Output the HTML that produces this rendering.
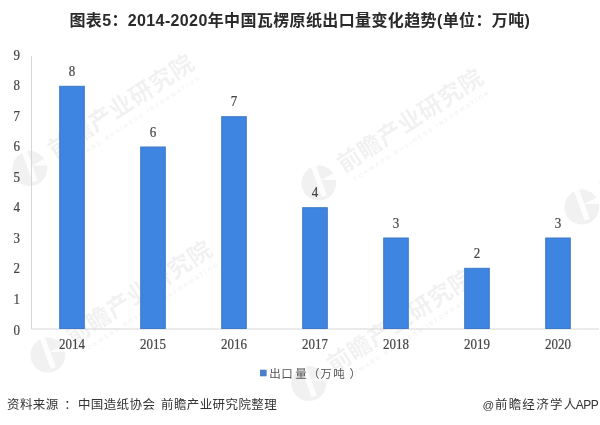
<!DOCTYPE html>
<html lang="zh-CN">
<head>
<meta charset="utf-8">
<title>图表5：2014-2020年中国瓦楞原纸出口量变化趋势</title>
<style>
html,body{margin:0;padding:0;background:#fff;}
body{width:600px;height:425px;overflow:hidden;position:relative;font-family:"Liberation Sans","Noto Sans CJK SC",sans-serif;}
svg{position:absolute;left:0;top:0;display:block;}
.title{font-family:"Liberation Sans","Noto Sans CJK SC",sans-serif;font-weight:700;font-size:16px;fill:#2a2a2a;}
.num{font-family:"Liberation Serif","Noto Serif CJK SC",serif;font-size:13.6px;fill:#444;stroke:#444;stroke-width:0.2px;text-anchor:middle;}
.leg{font-family:"Liberation Sans","Noto Sans CJK SC",sans-serif;font-size:11.5px;fill:#555;}
.foot{font-family:"Liberation Sans","Noto Sans CJK SC",sans-serif;font-size:12.5px;letter-spacing:0.4px;fill:#333;}
.footr{font-family:"Liberation Sans","Noto Sans CJK SC",sans-serif;font-size:12.5px;fill:#333;}
.wm{font-family:"Liberation Sans","Noto Sans CJK SC",sans-serif;font-size:23.5px;font-weight:700;fill:#000;fill-opacity:0.055;}
.wms{font-family:"Liberation Sans",sans-serif;font-size:6px;font-weight:700;fill:#000;fill-opacity:0.05;}
</style>
</head>
<body>
<svg width="600" height="425" viewBox="0 0 600 425">
<rect x="0" y="0" width="600" height="425" fill="#ffffff"/>
<text class="title" x="69.4" y="26.2" textLength="460.5" lengthAdjust="spacing">图表5：2014-2020年中国瓦楞原纸出口量变化趋势(单位：万吨)</text>
<g id="watermarks">
<g transform="translate(181,66.5) rotate(-33.0)"><g transform="translate(-182.4,3.3) rotate(33.0)"><circle cx="0" cy="0" r="17.5" fill="#000" fill-opacity="0.055"/><path d="M-9 -19 L-4 -21 L8 12 L3 14 Z M2 -3 L19 -12 L19 -3 Z" fill="#fff" fill-opacity="0.85"/></g><text class="wm" x="-156.0" y="8.8" textLength="168.0" lengthAdjust="spacing">前瞻产业研究院</text><text class="wms" x="-151.2" y="21.5" textLength="160" lengthAdjust="spacing">FORWARD BUSINESS INFORMATION</text></g>
<g transform="translate(470,81) rotate(-33.0)"><g transform="translate(-182.4,3.3) rotate(33.0)"><circle cx="0" cy="0" r="17.5" fill="#000" fill-opacity="0.055"/><path d="M-9 -19 L-4 -21 L8 12 L3 14 Z M2 -3 L19 -12 L19 -3 Z" fill="#fff" fill-opacity="0.85"/></g><text class="wm" x="-156.0" y="8.8" textLength="168.0" lengthAdjust="spacing">前瞻产业研究院</text><text class="wms" x="-151.2" y="21.5" textLength="160" lengthAdjust="spacing">FORWARD BUSINESS INFORMATION</text></g>
<g transform="translate(733,105) rotate(-33.0)"><g transform="translate(-182.4,3.3) rotate(33.0)"><circle cx="0" cy="0" r="17.5" fill="#000" fill-opacity="0.055"/><path d="M-9 -19 L-4 -21 L8 12 L3 14 Z M2 -3 L19 -12 L19 -3 Z" fill="#fff" fill-opacity="0.85"/></g><text class="wm" x="-156.0" y="8.8" textLength="168.0" lengthAdjust="spacing">前瞻产业研究院</text><text class="wms" x="-151.2" y="21.5" textLength="160" lengthAdjust="spacing">FORWARD BUSINESS INFORMATION</text></g>
<g transform="translate(199,253) rotate(-33.0)"><g transform="translate(-182.4,3.3) rotate(33.0)"><circle cx="0" cy="0" r="17.5" fill="#000" fill-opacity="0.055"/><path d="M-9 -19 L-4 -21 L8 12 L3 14 Z M2 -3 L19 -12 L19 -3 Z" fill="#fff" fill-opacity="0.85"/></g><text class="wm" x="-156.0" y="8.8" textLength="168.0" lengthAdjust="spacing">前瞻产业研究院</text><text class="wms" x="-151.2" y="21.5" textLength="160" lengthAdjust="spacing">FORWARD BUSINESS INFORMATION</text></g>
<g transform="translate(460,281.5) rotate(-33.0)"><g transform="translate(-182.4,3.3) rotate(33.0)"><circle cx="0" cy="0" r="17.5" fill="#000" fill-opacity="0.055"/><path d="M-9 -19 L-4 -21 L8 12 L3 14 Z M2 -3 L19 -12 L19 -3 Z" fill="#fff" fill-opacity="0.85"/></g><text class="wm" x="-156.0" y="8.8" textLength="168.0" lengthAdjust="spacing">前瞻产业研究院</text><text class="wms" x="-151.2" y="21.5" textLength="160" lengthAdjust="spacing">FORWARD BUSINESS INFORMATION</text></g>
</g>
<line x1="31.5" y1="56" x2="31.5" y2="329" stroke="#d6d6d6" stroke-width="1"/>
<line x1="31.5" y1="329" x2="599" y2="329" stroke="#d6d6d6" stroke-width="1"/>
<text class="num" transform="translate(16.8,334.5) scale(0.955,1)">0</text>
<text class="num" transform="translate(16.8,304.0) scale(0.955,1)">1</text>
<text class="num" transform="translate(16.8,273.4) scale(0.955,1)">2</text>
<text class="num" transform="translate(16.8,242.9) scale(0.955,1)">3</text>
<text class="num" transform="translate(16.8,212.4) scale(0.955,1)">4</text>
<text class="num" transform="translate(16.8,181.8) scale(0.955,1)">5</text>
<text class="num" transform="translate(16.8,151.3) scale(0.955,1)">6</text>
<text class="num" transform="translate(16.8,120.8) scale(0.955,1)">7</text>
<text class="num" transform="translate(16.8,90.3) scale(0.955,1)">8</text>
<text class="num" transform="translate(16.8,59.7) scale(0.955,1)">9</text>
<rect x="59.7" y="86.3" width="24.6" height="242.2" fill="#3e84e1" stroke="#4079c6" stroke-width="1"/>
<text class="num" transform="translate(72.0,76.0) scale(0.955,1)">8</text>
<text class="num" transform="translate(72.0,349.0) scale(0.955,1)">2014</text>
<rect x="140.7" y="147.0" width="24.6" height="181.5" fill="#3e84e1" stroke="#4079c6" stroke-width="1"/>
<text class="num" transform="translate(153.0,136.7) scale(0.955,1)">6</text>
<text class="num" transform="translate(153.0,349.0) scale(0.955,1)">2015</text>
<rect x="221.7" y="116.7" width="24.6" height="211.8" fill="#3e84e1" stroke="#4079c6" stroke-width="1"/>
<text class="num" transform="translate(234.0,106.4) scale(0.955,1)">7</text>
<text class="num" transform="translate(234.0,349.0) scale(0.955,1)">2016</text>
<rect x="302.7" y="207.7" width="24.6" height="120.8" fill="#3e84e1" stroke="#4079c6" stroke-width="1"/>
<text class="num" transform="translate(315.0,197.4) scale(0.955,1)">4</text>
<text class="num" transform="translate(315.0,349.0) scale(0.955,1)">2017</text>
<rect x="383.7" y="238.0" width="24.6" height="90.5" fill="#3e84e1" stroke="#4079c6" stroke-width="1"/>
<text class="num" transform="translate(396.0,227.7) scale(0.955,1)">3</text>
<text class="num" transform="translate(396.0,349.0) scale(0.955,1)">2018</text>
<rect x="464.7" y="268.3" width="24.6" height="60.2" fill="#3e84e1" stroke="#4079c6" stroke-width="1"/>
<text class="num" transform="translate(477.0,258.0) scale(0.955,1)">2</text>
<text class="num" transform="translate(477.0,349.0) scale(0.955,1)">2019</text>
<rect x="545.7" y="238.0" width="24.6" height="90.5" fill="#3e84e1" stroke="#4079c6" stroke-width="1"/>
<text class="num" transform="translate(558.0,227.7) scale(0.955,1)">3</text>
<text class="num" transform="translate(558.0,349.0) scale(0.955,1)">2020</text>
<rect x="260" y="369.7" width="6.6" height="6.6" fill="#4a80c8"/>
<text class="leg" y="377.6" x="269.3 281.3 295.3 307.9 320.3 333.3 349.6">出口量（万吨）</text>
<text class="foot" y="408.7"><tspan x="7.0">资料来源</tspan><tspan x="64.2">：</tspan><tspan x="77.9">中国造纸协会</tspan> <tspan x="161.0">前瞻产业研究院整理</tspan></text>
<text class="footr" y="408.7"><tspan font-size="11.5" x="482.4">@</tspan><tspan font-size="12.5" x="495 508.7 522.2 536.2 550 563.7">前瞻经济学人</tspan><tspan font-size="12" x="575.8 583.2 590.8">APP</tspan></text>
</svg>
</body>
</html>
